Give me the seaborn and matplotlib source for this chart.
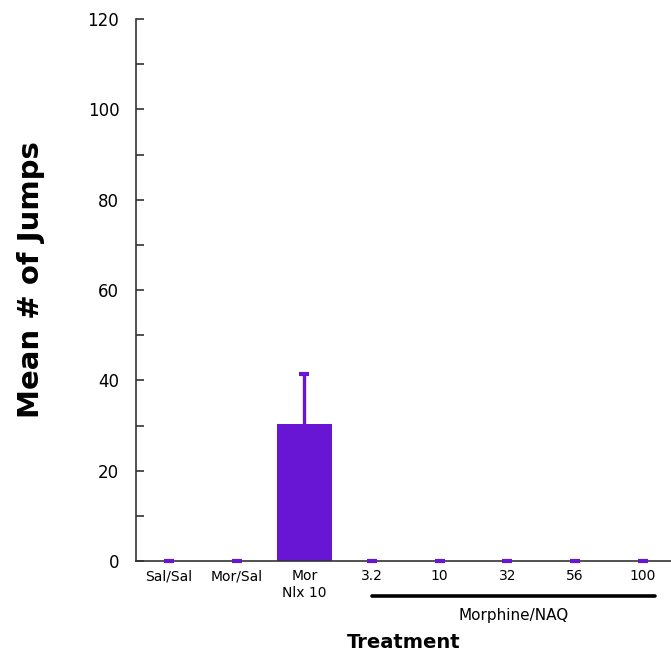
import matplotlib
matplotlib.use("Agg")
import matplotlib.pyplot as plt
from matplotlib.ticker import MultipleLocator
import seaborn as sns
import pandas as pd

treatments = ["Sal/Sal", "Mor/Sal", "Mor\nNlx 10", "3.2", "10", "32", "56", "100"]
mean_jumps = [0, 0, 30.3, 0, 0, 0, 0, 0]
sem_jumps = [0, 0, 11.1, 0, 0, 0, 0, 0]
group_label = "Morphine/NAQ"
group_first, group_last = 3, 7

purple = "#6816D4"

sns.set_theme(style="ticks")
plt.rcParams["font.family"] = ["DejaVu Sans"]
plt.rcParams["text.color"] = "black"
plt.rcParams["axes.labelcolor"] = "black"
plt.rcParams["xtick.color"] = "black"
plt.rcParams["ytick.color"] = "black"

df = pd.DataFrame({"Treatment": treatments, "Jumps": mean_jumps})
tops = [m + s for m, s in zip(mean_jumps, sem_jumps)]
xpos = list(range(len(treatments)))

fig = plt.figure(figsize=(6.71, 6.58), dpi=100)
ax = fig.add_axes([0.2027, 0.1474, 0.7973, 0.8237])

sns.barplot(data=df, x="Treatment", y="Jumps", order=treatments,
            color=purple, saturation=1, width=0.82, errorbar=None,
            linewidth=0, ax=ax)
# upper-only error bars with a flat cap
ax.errorbar(xpos, mean_jumps, yerr=[[0] * len(sem_jumps), sem_jumps],
            fmt="none", ecolor=purple, elinewidth=2.4, capsize=0, zorder=3)
ax.scatter(xpos, tops, marker="_", s=45, linewidths=3, color=purple,
           zorder=4, clip_on=False)

ax.set_ylim(0, 120)
ax.set_xlim(-0.49, 7.42)
ax.yaxis.set_major_locator(MultipleLocator(20))
ax.yaxis.set_minor_locator(MultipleLocator(10))
ax.tick_params(axis="y", which="both", direction="in", length=6, width=1.2,
               color="#333333", labelsize=12, pad=12)
ax.tick_params(axis="x", length=0, labelsize=10, pad=6)
for side in ("top", "right"):
    ax.spines[side].set_visible(False)
for side in ("left", "bottom"):
    ax.spines[side].set_color("#333333")
    ax.spines[side].set_linewidth(1.2)

ax.set_xlabel("Treatment", fontsize=14, fontweight="bold", labelpad=24)
ax.set_ylabel("Mean # of Jumps", fontsize=21, fontweight="bold")
ax.yaxis.set_label_coords(-0.17, 0.52)

# bracket under the Morphine/NAQ dose groups
trans = ax.get_xaxis_transform()
ax.plot([group_first, group_last + 0.18], [-0.065, -0.065], color="black", lw=2.6,
        transform=trans, clip_on=False)
ax.text((group_first + group_last + 0.18) / 2, -0.1, group_label, transform=trans,
        ha="center", va="center", fontsize=11)

fig.savefig("out.png", dpi=100)
